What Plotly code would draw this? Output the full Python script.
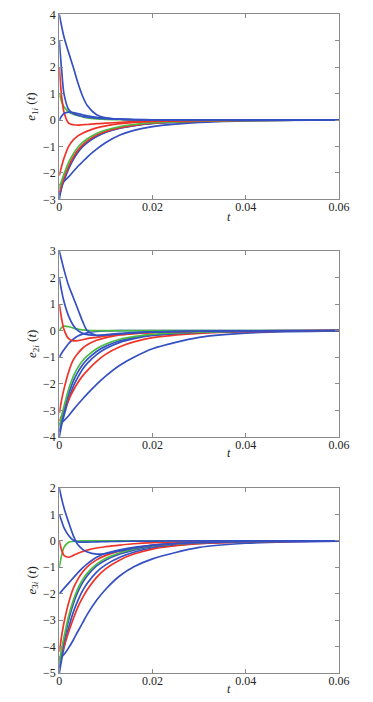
import plotly.graph_objects as go

# time samples (s)
t = [0, 0.0005, 0.001, 0.002, 0.003, 0.004, 0.005, 0.006, 0.008, 0.01, 0.013, 0.016, 0.02, 0.03, 0.04, 0.06]

BLUE = "#3450C2"
RED = "#EE3428"
GREEN = "#4CBB44"

# ---- e_1i(t) ----
e1_blue_a = [4, 3.55, 3.15, 2.55, 2.0, 1.4, 0.9, 0.55, 0.2, 0.08, 0.03, 0.01, 0, 0, 0, 0]
e1_blue_b = [3, 1.9, 1.0, 0.4, 0.25, 0.18, 0.14, 0.11, 0.07, 0.05, 0.03, 0.02, 0.01, 0, 0, 0]
e1_blue_c = [0, 0.15, 0.25, 0.3, 0.28, 0.24, 0.2, 0.16, 0.1, 0.06, 0.03, 0.015, 0.005, 0, 0, 0]
e1_red_a = [2, 0.9, 0.3, -0.12, -0.18, -0.19, -0.18, -0.17, -0.14, -0.12, -0.09, -0.06, -0.04, -0.015, -0.005, 0]
e1_green_a = [1, 0.7, 0.5, 0.31, 0.22, 0.16, 0.12, 0.08, 0.04, 0.02, 0.01, 0, 0, 0, 0, 0]
e1_red_b = [-2.1, -1.75, -1.45, -1.0, -0.75, -0.6, -0.5, -0.42, -0.3, -0.22, -0.14, -0.09, -0.05, -0.02, -0.005, 0]
e1_green_b = [-2.6, -2.3, -2.05, -1.6, -1.28, -1.03, -0.85, -0.71, -0.51, -0.38, -0.25, -0.17, -0.1, -0.04, -0.014, 0]
e1_red_c = [-2.75, -2.45, -2.2, -1.75, -1.4, -1.14, -0.94, -0.79, -0.57, -0.43, -0.29, -0.2, -0.12, -0.045, -0.016, 0]
e1_blue_d = [-2.85, -2.55, -2.3, -1.85, -1.5, -1.22, -1.01, -0.85, -0.62, -0.46, -0.31, -0.21, -0.13, -0.05, -0.018, 0]
e1_blue_e = [-3, -2.55, -2.25, -1.8, -1.46, -1.2, -1.0, -0.84, -0.61, -0.45, -0.3, -0.21, -0.13, -0.05, -0.018, 0]
e1_blue_f = [-2.45, -2.4, -2.32, -2.15, -1.95, -1.75, -1.58, -1.4, -1.1, -0.85, -0.57, -0.39, -0.25, -0.09, -0.03, 0]

# ---- e_2i(t) ----
e2_blue_a = [3, 2.65, 2.3, 1.7, 1.25, 0.8, 0.35, 0.0, -0.17, -0.15, -0.1, -0.07, -0.04, -0.015, -0.005, 0]
e2_blue_b = [2, 1.5, 1.1, 0.55, 0.2, 0.0, -0.1, -0.15, -0.18, -0.16, -0.12, -0.08, -0.05, -0.02, -0.005, 0]
e2_red_a = [1, 0.45, 0.05, -0.3, -0.38, -0.37, -0.34, -0.3, -0.25, -0.2, -0.14, -0.1, -0.06, -0.02, -0.01, 0]
e2_green_a = [0, 0.12, 0.17, 0.15, 0.1, 0.06, 0.03, 0.01, 0, 0, 0, 0, 0, 0, 0, 0]
e2_blue_c = [-1, -0.85, -0.72, -0.48, -0.32, -0.2, -0.13, -0.08, -0.03, -0.01, 0, 0, 0, 0, 0, 0]
e2_red_b = [-3.1, -2.6, -2.2, -1.55, -1.1, -0.85, -0.66, -0.53, -0.36, -0.26, -0.16, -0.11, -0.06, -0.02, -0.007, 0]
e2_green_b = [-3.6, -3.2, -2.85, -2.2, -1.72, -1.38, -1.13, -0.95, -0.68, -0.5, -0.32, -0.22, -0.13, -0.05, -0.018, 0]
e2_blue_d = [-3.8, -3.4, -3.05, -2.4, -1.9, -1.55, -1.28, -1.08, -0.78, -0.58, -0.38, -0.26, -0.16, -0.06, -0.022, 0]
e2_red_c = [-3.4, -3.2, -3.0, -2.6, -2.25, -1.95, -1.7, -1.5, -1.15, -0.88, -0.6, -0.42, -0.26, -0.1, -0.035, 0]
e2_blue_e = [-4, -3.55, -3.2, -2.6, -2.1, -1.75, -1.45, -1.23, -0.9, -0.67, -0.44, -0.3, -0.18, -0.07, -0.025, 0]
e2_blue_f = [-3.5, -3.45, -3.38, -3.2, -2.98, -2.77, -2.57, -2.38, -2.02, -1.7, -1.3, -1.0, -0.68, -0.25, -0.09, -0.01]

# ---- e_3i(t) ----
e3_blue_a = [2, 1.6, 1.25, 0.7, 0.2, -0.15, -0.32, -0.42, -0.5, -0.48, -0.38, -0.28, -0.17, -0.06, -0.02, 0]
e3_blue_b = [1, 0.75, 0.5, 0.2, 0.02, -0.04, -0.05, -0.05, -0.04, -0.03, -0.02, -0.01, -0.01, 0, 0, 0]
e3_red_a = [0, -0.35, -0.55, -0.62, -0.55, -0.47, -0.4, -0.35, -0.27, -0.22, -0.16, -0.11, -0.07, -0.025, -0.01, 0]
e3_green_a = [-1, -0.55, -0.25, -0.05, -0.02, -0.01, 0, 0, 0, 0, 0, 0, 0, 0, 0, 0]
e3_blue_c = [-2, -1.9, -1.8, -1.6, -1.4, -1.2, -1.02, -0.87, -0.62, -0.47, -0.34, -0.25, -0.16, -0.06, -0.02, 0]
e3_red_b = [-4.2, -3.6, -3.1, -2.35, -1.8, -1.45, -1.18, -0.98, -0.72, -0.55, -0.38, -0.27, -0.17, -0.06, -0.02, 0]
e3_green_b = [-4.6, -4.1, -3.65, -2.85, -2.25, -1.8, -1.47, -1.22, -0.88, -0.66, -0.45, -0.31, -0.19, -0.07, -0.025, 0]
e3_blue_d = [-4.8, -4.25, -3.8, -3.0, -2.38, -1.92, -1.58, -1.32, -0.95, -0.72, -0.5, -0.35, -0.22, -0.08, -0.03, 0]
e3_red_c = [-4.5, -4.25, -4.0, -3.45, -2.95, -2.5, -2.15, -1.85, -1.38, -1.05, -0.72, -0.5, -0.31, -0.11, -0.04, 0]
e3_blue_e = [-5, -4.5, -4.05, -3.3, -2.7, -2.25, -1.88, -1.6, -1.18, -0.9, -0.62, -0.43, -0.27, -0.1, -0.035, 0]
e3_blue_f = [-4.4, -4.38, -4.3, -4.05, -3.75, -3.42, -3.1, -2.78, -2.25, -1.82, -1.32, -0.98, -0.68, -0.25, -0.09, -0.01]

panels = [
    {"curves": [(e1_blue_f, BLUE), (e1_blue_e, BLUE), (e1_blue_d, BLUE), (e1_red_c, RED), (e1_green_b, GREEN),
                (e1_red_b, RED), (e1_green_a, GREEN), (e1_red_a, RED), (e1_blue_c, BLUE), (e1_blue_b, BLUE), (e1_blue_a, BLUE)],
     "yrange": [-3, 4], "label": "<i>e</i><sub>1<i>i</i></sub> (<i>t</i>)"},
    {"curves": [(e2_blue_f, BLUE), (e2_blue_e, BLUE), (e2_red_c, RED), (e2_blue_d, BLUE), (e2_green_b, GREEN),
                (e2_red_b, RED), (e2_blue_c, BLUE), (e2_green_a, GREEN), (e2_red_a, RED), (e2_blue_b, BLUE), (e2_blue_a, BLUE)],
     "yrange": [-4, 3], "label": "<i>e</i><sub>2<i>i</i></sub> (<i>t</i>)"},
    {"curves": [(e3_blue_f, BLUE), (e3_blue_e, BLUE), (e3_red_c, RED), (e3_blue_d, BLUE), (e3_green_b, GREEN),
                (e3_red_b, RED), (e3_blue_c, BLUE), (e3_green_a, GREEN), (e3_red_a, RED), (e3_blue_b, BLUE), (e3_blue_a, BLUE)],
     "yrange": [-5, 2], "label": "<i>e</i><sub>3<i>i</i></sub> (<i>t</i>)"},
]

W, H = 373, 702
x_dom = [59.3 / W, 339 / W]
y_pix = [(14.3, 199.3), (251, 437), (488, 673)]
t_label_pix = [217, 453, 689]

fig = go.Figure()
FONT = "Liberation Serif"
AX_COLOR = "#8a8a8a"

for i, p in enumerate(panels):
    n = i + 1
    xa = "x" if n == 1 else f"x{n}"
    ya = "y" if n == 1 else f"y{n}"
    for vals, col in p["curves"]:
        fig.add_trace(go.Scatter(x=t, y=vals, mode="lines", xaxis=xa, yaxis=ya,
                                 line=dict(color=col, width=1.7, shape="spline", smoothing=0.8),
                                 showlegend=False, hoverinfo="skip"))
    top, bot = y_pix[i]
    dom = [1 - bot / H, 1 - top / H]
    axis_common = dict(showgrid=False, zeroline=False, showline=True, linecolor=AX_COLOR, linewidth=1.2,
                       mirror="ticks", ticks="inside", ticklen=4, tickcolor=AX_COLOR, automargin=False,
                       tickfont=dict(family=FONT, size=12, color="#222"))
    fig.update_layout(**{
        ("xaxis" if n == 1 else f"xaxis{n}"): dict(domain=x_dom, range=[0, 0.06], tickvals=[0, 0.02, 0.04, 0.06],
                                                    ticktext=["0", "0.02", "0.04", "0.06"], anchor=ya,
                                                    ticklabelstandoff=-4, **axis_common),
        ("yaxis" if n == 1 else f"yaxis{n}"): dict(domain=dom, range=p["yrange"], dtick=1, anchor=xa, **axis_common),
    })
    fig.add_annotation(text="<i>t</i>", xref="paper", yref="paper", x=229 / W, y=1 - t_label_pix[i] / H,
                       xanchor="center", yanchor="middle", showarrow=False,
                       font=dict(family=FONT, size=12, color="#222"))
    fig.add_annotation(text=p["label"], xref="paper", yref="paper", x=32 / W, y=1 - ((top + bot) / 2) / H,
                       xanchor="center", yanchor="middle", textangle=-90, showarrow=False,
                       font=dict(family=FONT, size=13, color="#222"))

fig.update_layout(width=W, height=H, margin=dict(l=0, r=0, t=0, b=0, pad=0),
                  paper_bgcolor="white", plot_bgcolor="white")
fig.write_html("out.html", config={"displayModeBar": False},
               post_script="document.body.style.margin='0';document.body.style.padding='0';")
